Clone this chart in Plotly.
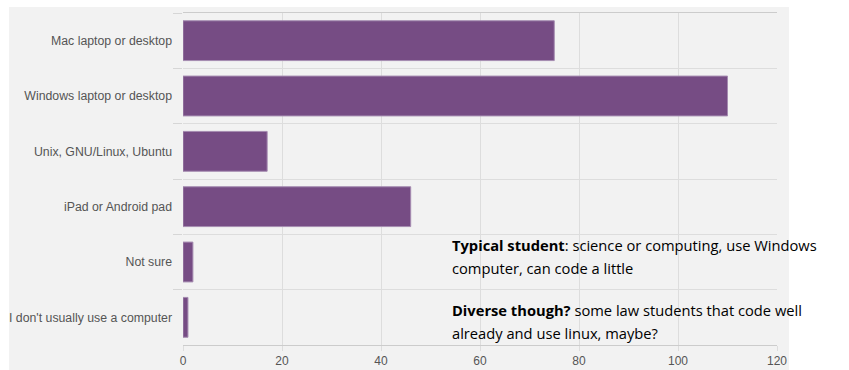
import plotly.graph_objects as go

categories = ["Mac laptop or desktop", "Windows laptop or desktop", "Unix, GNU/Linux, Ubuntu",
              "iPad or Android pad", "Not sure", "I don't usually use a computer"]
values = [75, 110, 17, 46, 2, 1]
x_ticks = [0, 20, 40, 60, 80, 100, 120]

W, H = 849, 370
L, R, T, B = 183, 72, 13, 25
pw, ph = W - L - R, H - T - B

fig = go.Figure(go.Bar(
    x=values, y=categories, orientation="h",
    marker=dict(color="#764c84", line=dict(color="#a58bb0", width=1)),
    width=0.72,
))

def px2paper_x(px):
    return (px - L) / pw

def px2paper_y(py):
    return (H - B - py) / ph

fig.add_shape(type="rect", xref="paper", yref="paper", layer="below",
              x0=px2paper_x(9), x1=px2paper_x(789), y0=px2paper_y(372), y1=px2paper_y(7),
              fillcolor="#f2f2f2", line=dict(width=0))

fig.update_layout(
    width=W, height=H, margin=dict(l=L, r=R, t=T, b=B, autoexpand=False),
    paper_bgcolor="white", plot_bgcolor="#f2f2f2",
    showlegend=False,
    font=dict(family="Liberation Sans, Arial, sans-serif", size=12, color="#555555"),
    xaxis=dict(range=[0, 120], tickvals=x_ticks, showgrid=True, gridcolor="#dddddd",
               gridwidth=1, zeroline=False, showline=True, linecolor="#cccccc", mirror=True,
               ticks="outside", ticklen=5, tickcolor="#dddddd", automargin=False,
               tickfont=dict(size=12, color="#555555")),
    yaxis=dict(categoryorder="array", categoryarray=categories, autorange="reversed",
               tickson="boundaries", showgrid=True, gridcolor="#dddddd", gridwidth=1,
               ticks="outside", ticklen=9, tickwidth=1, tickcolor="#d6d6d6", showline=False,
               automargin=False, ticklabelstandoff=10,
               tickfont=dict(size=12.3, color="#555555")),
)

notes = [
    ("<b>Typical student</b>: science or computing, use Windows", 245),
    ("computer, can code a little", 268),
    ("<b>Diverse though?</b> some law students that code well", 310),
    ("already and use linux, maybe?", 333),
]
for txt, ypx in notes:
    fig.add_annotation(text=txt, xref="paper", yref="paper", x=px2paper_x(450), y=px2paper_y(ypx),
                       xanchor="left", yanchor="middle", align="left", showarrow=False,
                       font=dict(family="Open Sans, sans-serif", size=14.7, color="#000000"))

fig.write_html("out.html")
